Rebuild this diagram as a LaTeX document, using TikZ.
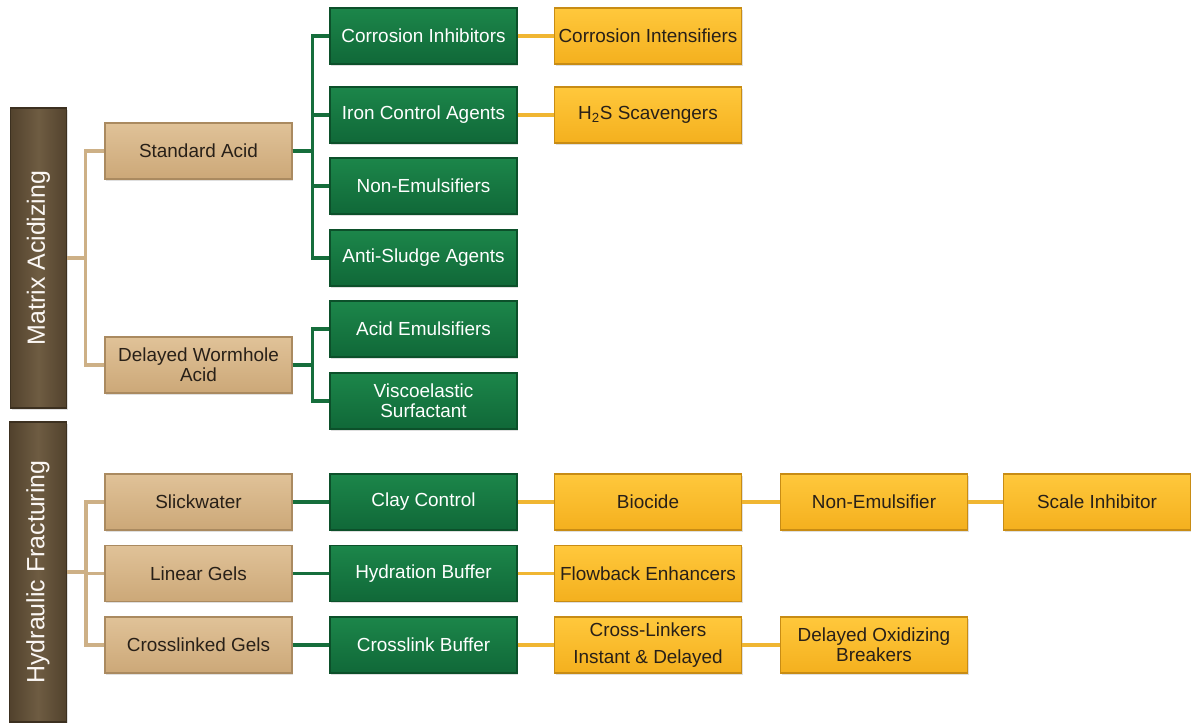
\documentclass[tikz,border=0pt]{standalone}
\usepackage{fontspec}
\setmainfont{Liberation Sans}
\usetikzlibrary{shadows}
\definecolor{brownA}{RGB}{110,92,66}
\definecolor{brownB}{RGB}{82,66,45}
\definecolor{brownE}{RGB}{60,48,32}
\definecolor{tanA}{RGB}{224,194,152}
\definecolor{tanB}{RGB}{204,168,120}
\definecolor{tanE}{RGB}{170,138,96}
\definecolor{tanL}{RGB}{205,176,134}
\definecolor{grnA}{RGB}{28,134,74}
\definecolor{grnB}{RGB}{16,104,56}
\definecolor{grnE}{RGB}{12,80,42}
\definecolor{grnL}{RGB}{22,110,60}
\definecolor{ylwA}{RGB}{255,200,60}
\definecolor{ylwB}{RGB}{244,176,30}
\definecolor{ylwE}{RGB}{200,140,20}
\definecolor{ylwL}{RGB}{240,182,50}
\definecolor{txt}{RGB}{40,32,24}
\tikzset{
  basebox/.style={minimum width=140.25pt, minimum height=42pt, inner sep=0pt,
    align=center, line width=0.8pt,
    font=\fontsize{14.2}{15}\selectfont,
    drop shadow={shadow xshift=1pt, shadow yshift=-1.2pt, opacity=0.25}},
  tanbox/.style={basebox, top color=tanA, bottom color=tanB, draw=tanE, text=txt},
  grnbox/.style={basebox, top color=grnA, bottom color=grnB, draw=grnE, text=white},
  ylwbox/.style={basebox, top color=ylwA, bottom color=ylwB, draw=ylwE, text=txt},
  brnbox/.style={minimum width=42.5pt, minimum height=225pt, inner sep=0pt,
    left color=brownB, right color=brownB, middle color=brownA, draw=brownE, line width=0.8pt,
    drop shadow={shadow xshift=1pt, shadow yshift=-1.2pt, opacity=0.25}},
  vtext/.style={rotate=90, text=white!94!brown, font=\fontsize{18.7}{20}\selectfont},
  tanline/.style={draw=tanL, line width=2.6pt},
  grnline/.style={draw=grnL, line width=2.6pt},
  ylwline/.style={draw=ylwL, line width=2.6pt},
}
\begin{document}
\begin{tikzpicture}[x=0.75pt, y=-0.75pt]
\useasboundingbox[fill=white] (0,0) rectangle (1191,722);

% connectors first (under the boxes)
\path (38.5,258) coordinate (MAc) (38,572) coordinate (HFc);

% left category boxes
\node[brnbox] (MA) at (MAc) {};
\node[vtext] (MAt) at (MA.center) {Matrix Acidizing};
\node[brnbox] (HF) at (HFc) {};
\node[vtext] (HFt) at (HF.center) {Hydraulic Fracturing};

% tan boxes
\node[tanbox] (SA) at (198.5,151) {Standard Acid};
\node[tanbox] (DW) at (198.5,365) {Delayed Wormhole\\Acid};
\node[tanbox] (SW) at (198.5,502) {Slickwater};
\node[tanbox] (LG) at (198.5,573.5) {Linear Gels};
\node[tanbox] (CG) at (198.5,645) {Crosslinked Gels};

% green boxes
\node[grnbox] (CI) at (423.5,36) {Corrosion Inhibitors};
\node[grnbox] (IC) at (423.5,115) {Iron Control Agents};
\node[grnbox] (NE) at (423.5,186) {Non-Emulsifiers};
\node[grnbox] (AS) at (423.5,258) {Anti-Sludge Agents};
\node[grnbox] (AE) at (423.5,329) {Acid Emulsifiers};
\node[grnbox] (VS) at (423.5,401) {Viscoelastic\\Surfactant};
\node[grnbox] (CC) at (423.5,502) {Clay Control};
\node[grnbox] (HB) at (423.5,573.5) {Hydration Buffer};
\node[grnbox] (CB) at (423.5,645) {Crosslink Buffer};

% yellow boxes
\node[ylwbox] (CIn) at (648,36) {Corrosion Intensifiers};
\node[ylwbox] (HS) at (648,115) {H\textsubscript{2}S Scavengers};
\node[ylwbox] (BI) at (648,502) {Biocide};
\node[ylwbox] (FE) at (648,573.5) {Flowback Enhancers};
\node[ylwbox] (CL) at (648,645) {Cross-Linkers\\[5pt]Instant \& Delayed};
\node[ylwbox] (NEm) at (874,502) {Non-Emulsifier};
\node[ylwbox] (DOB) at (874,645) {Delayed Oxidizing\\Breakers};
\node[ylwbox] (SI) at (1097,502) {Scale Inhibitor};

% tan connectors
\draw[tanline] (MA.east) -- ++(18,0) |- (SA.west);
\draw[tanline] (MA.east) -- ++(18,0) |- (DW.west);
\draw[tanline] (HF.east) -- ++(19,0) |- (SW.west);
\draw[tanline] (HF.east) -- ++(19,0) |- (LG.west);
\draw[tanline] (HF.east) -- ++(19,0) |- (CG.west);

% green connectors
\foreach \t in {CI,IC,NE,AS}
  \draw[grnline] (SA.east) -- ++(20,0) |- (\t.west);
\foreach \t in {AE,VS}
  \draw[grnline] (DW.east) -- ++(20,0) |- (\t.west);
\draw[grnline] (SW.east) -- (CC.west);
\draw[grnline] (LG.east) -- (HB.west);
\draw[grnline] (CG.east) -- (CB.west);

% yellow connectors
\draw[ylwline] (CI.east) -- (CIn.west);
\draw[ylwline] (IC.east) -- (HS.west);
\draw[ylwline] (CC.east) -- (BI.west);
\draw[ylwline] (BI.east) -- (NEm.west);
\draw[ylwline] (NEm.east) -- (SI.west);
\draw[ylwline] (HB.east) -- (FE.west);
\draw[ylwline] (CB.east) -- (CL.west);
\draw[ylwline] (CL.east) -- (DOB.west);
\end{tikzpicture}
\end{document}
